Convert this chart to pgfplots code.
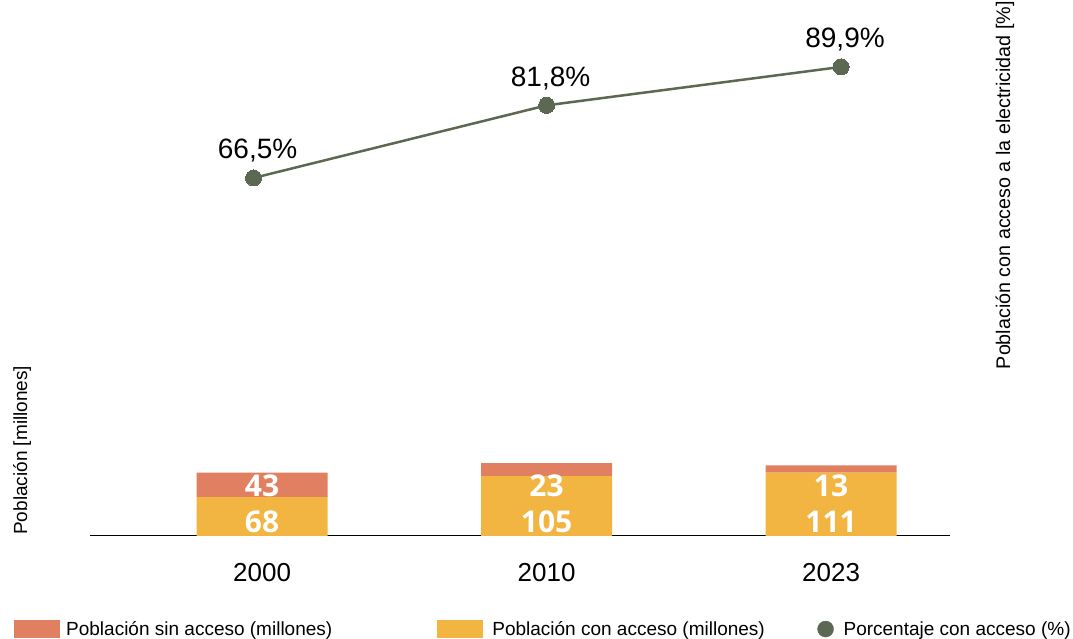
\documentclass[border=0pt]{standalone}
\usepackage{fontspec}
\setmainfont{Liberation Sans}
\newfontfamily\labfont{Open Sans}
\usepackage{pgfplots}
\pgfplotsset{compat=1.18}
\definecolor{cRed}{RGB}{224,128,96}
\definecolor{cYel}{RGB}{243,181,65}
\definecolor{cGrn}{RGB}{92,104,82}
\tikzset{barlab/.style={text=white, font=\labfont\bfseries\fontsize{30}{32}\selectfont, inner sep=0pt}}
\begin{document}
\begin{tikzpicture}
\useasboundingbox (0,0) rectangle (1073pt,639pt);
\begin{axis}[
  at={(90pt,103pt)}, anchor=south west,
  width=860pt, height=517pt, scale only axis,
  xmin=-0.605, xmax=2.418, ymin=0, ymax=907,
  ybar stacked, bar width=131pt,
  axis x line=bottom, axis y line=none,
  axis line style={black, line width=1pt, -},
  xtick={0,1,2}, xticklabels={2000,2010,2023},
  ytick=\empty,
  major tick length=0pt,
  xticklabel style={font=\fontsize{26}{30}\selectfont, inner sep=0pt, yshift=-27pt},
  clip=false,
]
\addplot[fill=cYel, draw=none] coordinates {(0,68) (1,105) (2,111)};
\addplot[fill=cRed, draw=none] coordinates {(0,43) (1,23) (2,13)};
\coordinate (a1) at (axis cs:0,24.6);
\coordinate (a2) at (axis cs:1,24.6);
\coordinate (a3) at (axis cs:2,24.6);
\coordinate (b1) at (axis cs:0,88);
\coordinate (b2) at (axis cs:1,88);
\coordinate (b3) at (axis cs:2,88);
\end{axis}
\begin{axis}[
  at={(90pt,103pt)}, anchor=south west,
  width=860pt, height=517pt, scale only axis,
  xmin=-0.605, xmax=2.418, ymin=-8.96, ymax=100,
  axis lines=none, xtick=\empty, ytick=\empty,
  clip=false,
  legend columns=3,
  legend cell align=left,
  legend style={at={(-0.0884,-0.18)}, anchor=west, draw=none, fill=none,
    inner sep=0pt, outer sep=0pt, column sep=0pt, row sep=0pt,
    nodes={inner sep=0pt},
    font=\fontsize{19}{23}\selectfont},
]
\addlegendimage{legend image code/.code={\fill[cRed] (0pt,-8.5pt) rectangle (45pt,8.5pt); \path[draw=none,fill=none] (0pt,0pt) -- (52pt,0pt);}}
\addlegendentry{\makebox[371pt][l]{Población sin acceso (millones)}}
\addlegendimage{legend image code/.code={\fill[cYel] (0pt,-8.5pt) rectangle (45pt,8.5pt); \path[draw=none,fill=none] (0pt,0pt) -- (55pt,0pt);}}
\addlegendentry{\makebox[325pt][l]{Población con acceso (millones)}}
\addlegendimage{legend image code/.code={\fill[cGrn] (8pt,0pt) circle (8pt); \path[draw=none,fill=none] (0pt,0pt) -- (26pt,0pt);}}
\addlegendentry{Porcentaje con acceso (\%)}
\addplot[cGrn, line width=2.5pt, mark=*, mark size=8pt,
  mark options={solid, fill=cGrn, draw=cGrn, line width=0pt},
  nodes near coords, point meta=explicit symbolic,
  every node near coord/.append style={font=\fontsize{28}{32}\selectfont, text=black, anchor=base, yshift=19pt, xshift=4pt, inner sep=0pt},
  forget plot]
  coordinates {(-0.03,66.5)[66,5\%] (1.0,81.8)[81,8\%] (2.035,89.9)[89,9\%]};
\end{axis}
\node[barlab] at (a1) {68};
\node[barlab] at (a2) {105};
\node[barlab] at (a3) {111};
\node[barlab] at (b1) {43};
\node[barlab] at (b2) {23};
\node[barlab] at (b3) {13};
\node[rotate=90, anchor=west, font=\fontsize{19}{22}\selectfont, inner sep=0pt] at (22pt,104pt) {Población [millones]};
\node[rotate=90, anchor=east, font=\fontsize{19.7}{22}\selectfont, inner sep=0pt] at (1005pt,638pt) {Población con acceso a la electricidad [\%]};
\end{tikzpicture}
\end{document}
